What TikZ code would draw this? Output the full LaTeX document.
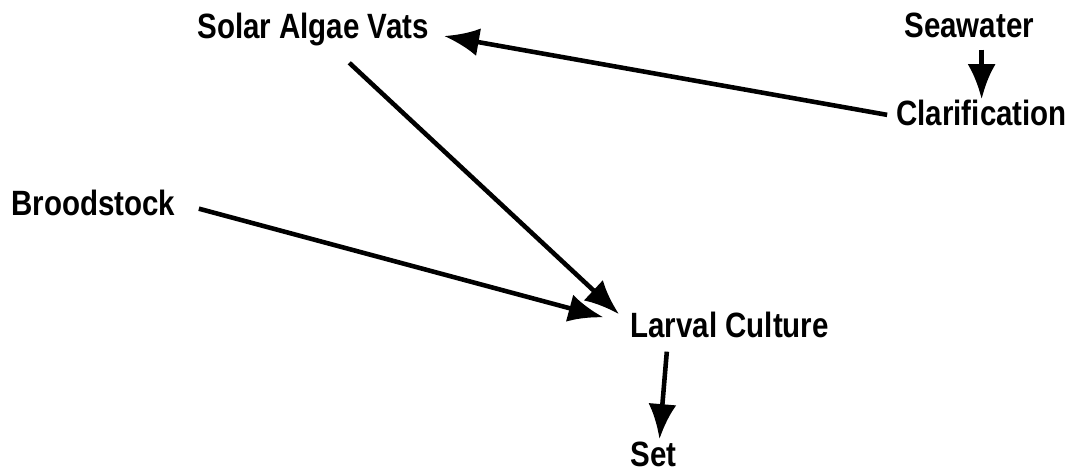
\documentclass[tikz,border=0pt]{standalone}
\usepackage{fontspec}
\newfontfamily\flowfont{Liberation Sans}[FakeStretch=0.84]
\usetikzlibrary{arrows.meta}

\begin{document}
\begin{tikzpicture}[x=0.02cm, y=-0.02cm,
    lbl/.style={inner sep=0pt, font=\flowfont\bfseries\fontsize{20}{22}\selectfont},
    arr/.style={line width=2.6pt, -{Latex[length=0.7cm, width=0.56cm]}}]
  \useasboundingbox (0,0) rectangle (1080,471);

  \node[lbl, anchor=base west] (solar) at (197,38) {Solar Algae Vats};
  \node[lbl, anchor=base west] (sea) at (904,37) {Seawater};
  \node[lbl, anchor=base west] (clar) at (896,125) {Clarification};
  \node[lbl, anchor=base west] (brood) at (11,215) {Broodstock};
  \node[lbl, anchor=base west] (larval) at (630,337) {Larval Culture};
  \node[lbl, anchor=base west] (set) at (630,466) {Set};

  \draw[arr, shorten <=0.24cm] (sea.south -| clar.north) -- (clar.north);
  \draw[arr, shorten <=0.18cm] ([yshift=-0.08cm]clar.west) -- ([xshift=0.3cm, yshift=0.04cm]solar.base east);
  \draw[arr, shorten <=0.5cm, shorten >=0.3cm] (solar) -- (larval.west);
  \draw[arr, shorten <=0.48cm, shorten >=0.55cm] (brood.east) -- (larval.west);
  \draw[arr, shorten <=0.28cm, shorten >=0.04cm] ([xshift=0.76cm]larval.south west) -- ([xshift=0.12cm]set.north);
\end{tikzpicture}
\end{document}
